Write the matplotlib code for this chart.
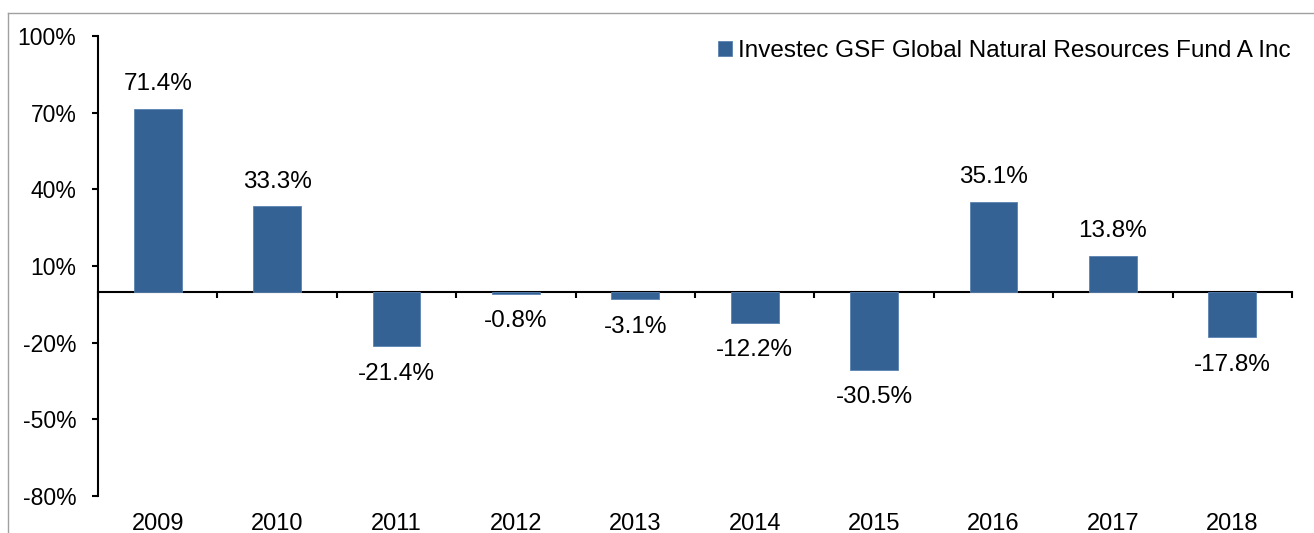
import matplotlib
matplotlib.use("Agg")
import matplotlib.pyplot as plt
from matplotlib.lines import Line2D

plt.rcParams['font.family'] = ['Liberation Sans', 'DejaVu Sans']

years = ['2009', '2010', '2011', '2012', '2013', '2014', '2015', '2016', '2017', '2018']
returns = [71.4, 33.3, -21.4, -0.8, -3.1, -12.2, -30.5, 35.1, 13.8, -17.8]
series_name = 'Investec GSF Global Natural Resources Fund A Inc'
y_ticks = [-80, -50, -20, 10, 40, 70, 100]

bar_color = '#346294'

fig = plt.figure(figsize=(13.14, 5.33), dpi=100)
ax = fig.add_axes([98/1314, 1-496/533, (1292-98)/1314, (496-36)/533])

x = list(range(len(years)))
bars = ax.bar(x, returns, width=0.4, color=bar_color, edgecolor='#5a82b0', linewidth=0.6,
              label=series_name, zorder=2)

ymin, ymax = -80, 100
ax.set_ylim(ymin, ymax)
ax.set_xlim(-0.5, len(years) - 0.5)
ax.set_yticks(y_ticks)
ax.set_yticklabels([f'{v}%' for v in y_ticks], fontsize=16.5)
ax.tick_params(axis='y', direction='out', length=4.5, width=1.5, pad=11)

ax.set_xticks(x)
ax.set_xticklabels(years, fontsize=17)
ax.tick_params(axis='x', length=0, pad=12)

for s in ['top', 'right', 'bottom']:
    ax.spines[s].set_visible(False)
ax.spines['left'].set_linewidth(1.5)

# zero line with category boundary ticks
sec = ax.secondary_xaxis((0 - ymin) / (ymax - ymin))
sec.set_xticks([i - 0.5 for i in range(len(years) + 1)])
sec.set_xticklabels([''] * (len(years) + 1))
sec.tick_params(direction='out', length=4.5, width=1.5)
sec.spines['bottom'].set_linewidth(1.5)
sec.spines['bottom'].set_zorder(3)

for xi, v in zip(x, returns):
    if v >= 0:
        ax.annotate(f'{v:.1f}%', (xi, v), xytext=(0, 10), textcoords='offset points',
                    ha='center', va='bottom', fontsize=17.5)
    else:
        ax.annotate(f'{v:.1f}%', (xi, v), xytext=(0, -12), textcoords='offset points',
                    ha='center', va='top', fontsize=17.5)

ax.legend(loc='upper right', bbox_to_anchor=(1291/1314, 1-40/533), bbox_transform=fig.transFigure,
          frameon=False, fontsize=17.5, handlelength=0.6, handleheight=0.6, handletextpad=0.25,
          borderaxespad=0, borderpad=0)

# figure border (top and left)
fig.add_artist(Line2D([8/1314, 1], [1-13/533, 1-13/533], transform=fig.transFigure, color='#a0a0a0', lw=1))
fig.add_artist(Line2D([8/1314, 8/1314], [0, 1-13/533], transform=fig.transFigure, color='#a0a0a0', lw=1))

fig.savefig('out.png', dpi=100)
